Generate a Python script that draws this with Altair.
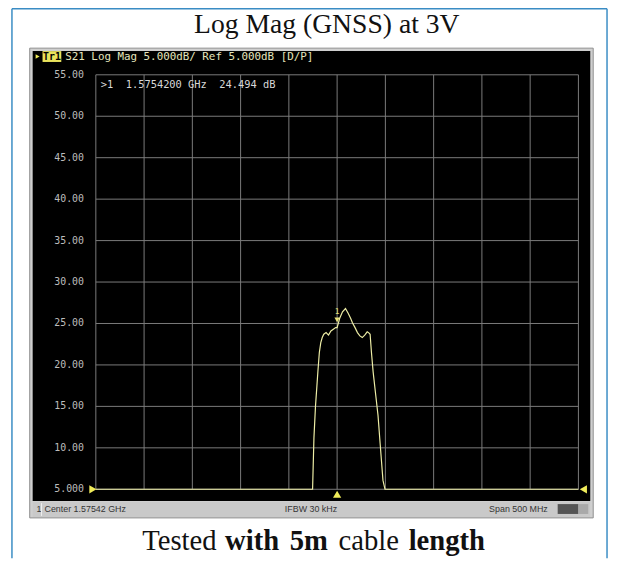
import altair as alt
import pandas as pd

# ---------------- data ----------------
freq_ghz = [1.32542, 1.5500, 1.5514, 1.5530, 1.5545, 1.5555, 1.5570, 1.5585, 1.5600,
            1.5616, 1.5640, 1.5665, 1.5690, 1.5715, 1.5739, 1.57542, 1.5780, 1.5810,
            1.5841, 1.5870, 1.5895, 1.5913, 1.5940, 1.5965, 1.5990, 1.6015, 1.6040,
            1.6066, 1.6080, 1.6096, 1.6110, 1.6127, 1.6150, 1.6178, 1.6200, 1.6229,
            1.6250, 1.82542]
mag_db = [5.0, 5.0, 11.2, 15.0, 17.5, 19.2, 21.5, 22.7, 23.3,
          23.7, 23.9, 23.6, 24.1, 24.3, 24.5, 24.49, 25.6, 26.4,
          26.8, 26.2, 25.6, 25.1, 24.5, 23.9, 23.5, 23.3, 23.6,
          24.0, 23.9, 23.7, 21.5, 19.2, 16.8, 13.9, 10.5, 6.1,
          5.0, 5.0]
y_ticks = [5, 10, 15, 20, 25, 30, 35, 40, 45, 50, 55]
y_labels = ["5.000", "10.00", "15.00", "20.00", "25.00", "30.00",
            "35.00", "40.00", "45.00", "50.00", "55.00"]
x_grid = [1.32542, 1.37542, 1.42542, 1.47542, 1.52542, 1.57542,
          1.62542, 1.67542, 1.72542, 1.77542, 1.82542]
marker_freq = [1.57542]
marker_db = [24.494]

NB = "\u00a0"
title_text = "Log Mag (GNSS) at 3V"
header_text = "S21 Log Mag 5.000dB/ Ref 5.000dB [D/P]".replace(" ", NB)
marker_text = ">1  1.5754200 GHz  24.494 dB".replace(" ", NB)
status_left = "Center 1.57542 GHz"
status_mid = "IFBW 30 kHz"
status_right = "Span 500 MHz"
sub_words = [("Tested", "normal"), ("with", "bold"), ("5m", "bold"),
             ("cable", "normal"), ("length", "bold")]

trace = pd.DataFrame({"f": freq_ghz, "db": mag_db})
ygrid = pd.DataFrame({"v": y_ticks, "lab": y_labels})
xgrid = pd.DataFrame({"v": x_grid})
mk = pd.DataFrame({"f": marker_freq, "db": marker_db})

xs = alt.Scale(domain=[x_grid[0], x_grid[-1]], nice=False, zero=False)
ys = alt.Scale(domain=[5, 55], nice=False, zero=False)

one = alt.Data(values=[{"a": 1}])


def rect(x, x2, y, y2, **kw):
    return alt.Chart(one).mark_rect(**kw).encode(
        x=alt.value(x), x2=alt.value(x2), y=alt.value(y), y2=alt.value(y2))


def rule(x, x2, y, y2, **kw):
    return alt.Chart(one).mark_rule(**kw).encode(
        x=alt.value(x), x2=alt.value(x2), y=alt.value(y), y2=alt.value(y2))


def text(t, x, y, **kw):
    return alt.Chart(one).mark_text(text=t, **kw).encode(
        x=alt.value(x), y=alt.value(y))


def pt(x, y, **kw):
    return alt.Chart(one).mark_point(**kw).encode(x=alt.value(x), y=alt.value(y))


BLUE = "#3a8cc4"
layers = [
    # outer blue frame
    rule(-85, -85, -67, 490, color=BLUE, strokeWidth=1.5),
    rule(-85, 518, -67, -67, color=BLUE, strokeWidth=1.5),
    rule(518, 518, -67, 490, color=BLUE, strokeWidth=1.5),
    # instrument frame
    rect(-67, 504, -27, 449, color="#cfcfcf", stroke="#8e8e8e", strokeWidth=1),
    rect(-64, 501, -24, 432, color="#000000"),
    rect(-64, 501, 433, 448, color="#c9c9c9"),
    rect(468, 489, 435, 445, color="#555555"),
    rect(489, 499, 435, 445, color="#a9a9a9"),
]

grid_y = alt.Chart(ygrid).mark_rule(color="#7c7c7c", strokeWidth=1).encode(
    y=alt.Y("v:Q", scale=ys, axis=None))
grid_x = alt.Chart(xgrid).mark_rule(color="#7c7c7c", strokeWidth=1).encode(
    x=alt.X("v:Q", scale=xs, axis=None))
ylab = alt.Chart(ygrid).mark_text(align="right", baseline="middle", font="DejaVu Sans Mono",
                                  fontSize=10, color="#bdbdbd").encode(
    y=alt.Y("v:Q", scale=ys, axis=None), x=alt.value(-12), text="lab:N")

line = alt.Chart(trace).mark_line(color="#eeeea6", strokeWidth=1.2).encode(
    x=alt.X("f:Q", scale=xs, axis=None),
    y=alt.Y("db:Q", scale=ys, axis=None),
)

mk_tri = alt.Chart(mk).mark_point(shape="triangle-down", filled=True, size=30,
                                  color="#e6e07a", opacity=1, yOffset=-8).encode(
    x=alt.X("f:Q", scale=xs, axis=None), y=alt.Y("db:Q", scale=ys, axis=None))
mk_lbl = alt.Chart(mk).mark_text(text="1", color="#e6e07a", fontSize=8,
                                 font="DejaVu Sans Mono", yOffset=-16).encode(
    x=alt.X("f:Q", scale=xs, axis=None), y=alt.Y("db:Q", scale=ys, axis=None))
mk_bottom = alt.Chart(mk).mark_point(shape="triangle-up", filled=True, size=70,
                                     color="#f0ec5a", opacity=1).encode(
    x=alt.X("f:Q", scale=xs, axis=None), y=alt.value(425))

layers += [grid_y, grid_x, ylab, line, mk_tri, mk_lbl, mk_bottom]

# reference-level triangles and header
layers += [
    pt(-3, 420, shape="triangle-right", filled=True, size=70, color="#f0ec5a", opacity=1),
    pt(494, 420, shape="triangle-left", filled=True, size=70, color="#f0ec5a", opacity=1),
    pt(-59, -18.5, shape="triangle-right", filled=True, size=22, color="#f0ec5a", opacity=1),
    rect(-54, -35, -24, -13, color="#e9e35c"),
    text("Tr1", -44.5, -18.5, font="DejaVu Sans Mono", fontSize=10, color="#000000",
         fontWeight="bold"),
    text(header_text, -31, -18.5, align="left", font="DejaVu Sans Mono", fontSize=11,
         color="#e4e4bc"),
    text(marker_text, 5, 10, align="left", font="DejaVu Sans Mono", fontSize=10.5,
         color="#d8d8d8"),
    # status bar
    text("1", -60, 440.5, align="left", font="Liberation Sans", fontSize=9, color="#353535"),
    rule(-55, -55, 434, 447, color="#f0f0f0", strokeWidth=1),
    text(status_left, -52, 440.5, align="left", font="Liberation Sans", fontSize=9,
         color="#353535"),
    text(status_mid, 218, 440.5, font="Liberation Sans", fontSize=9, color="#353535"),
    text(status_right, 458, 440.5, align="right", font="Liberation Sans", fontSize=9,
         color="#353535"),
    # title
    text(title_text, 234, -50, font="Liberation Serif", fontSize=28, color="#111111"),
]

# subtitle words (mixed weight)
sub_x = [47, 131, 196.5, 246, 317]
for (w, wt), xx in zip(sub_words, sub_x):
    layers.append(text(w, xx, 473, align="left", font="Liberation Serif", fontSize=29,
                       fontWeight=wt, color="#111111"))

chart = alt.layer(*layers).properties(
    width=489, height=420, autosize="none",
    padding={"left": 89, "top": 64, "right": 31, "bottom": 70},
    background="#ffffff",
).configure_view(stroke=None)

chart.save("out.html", embed_options={"renderer": "svg", "actions": False})
